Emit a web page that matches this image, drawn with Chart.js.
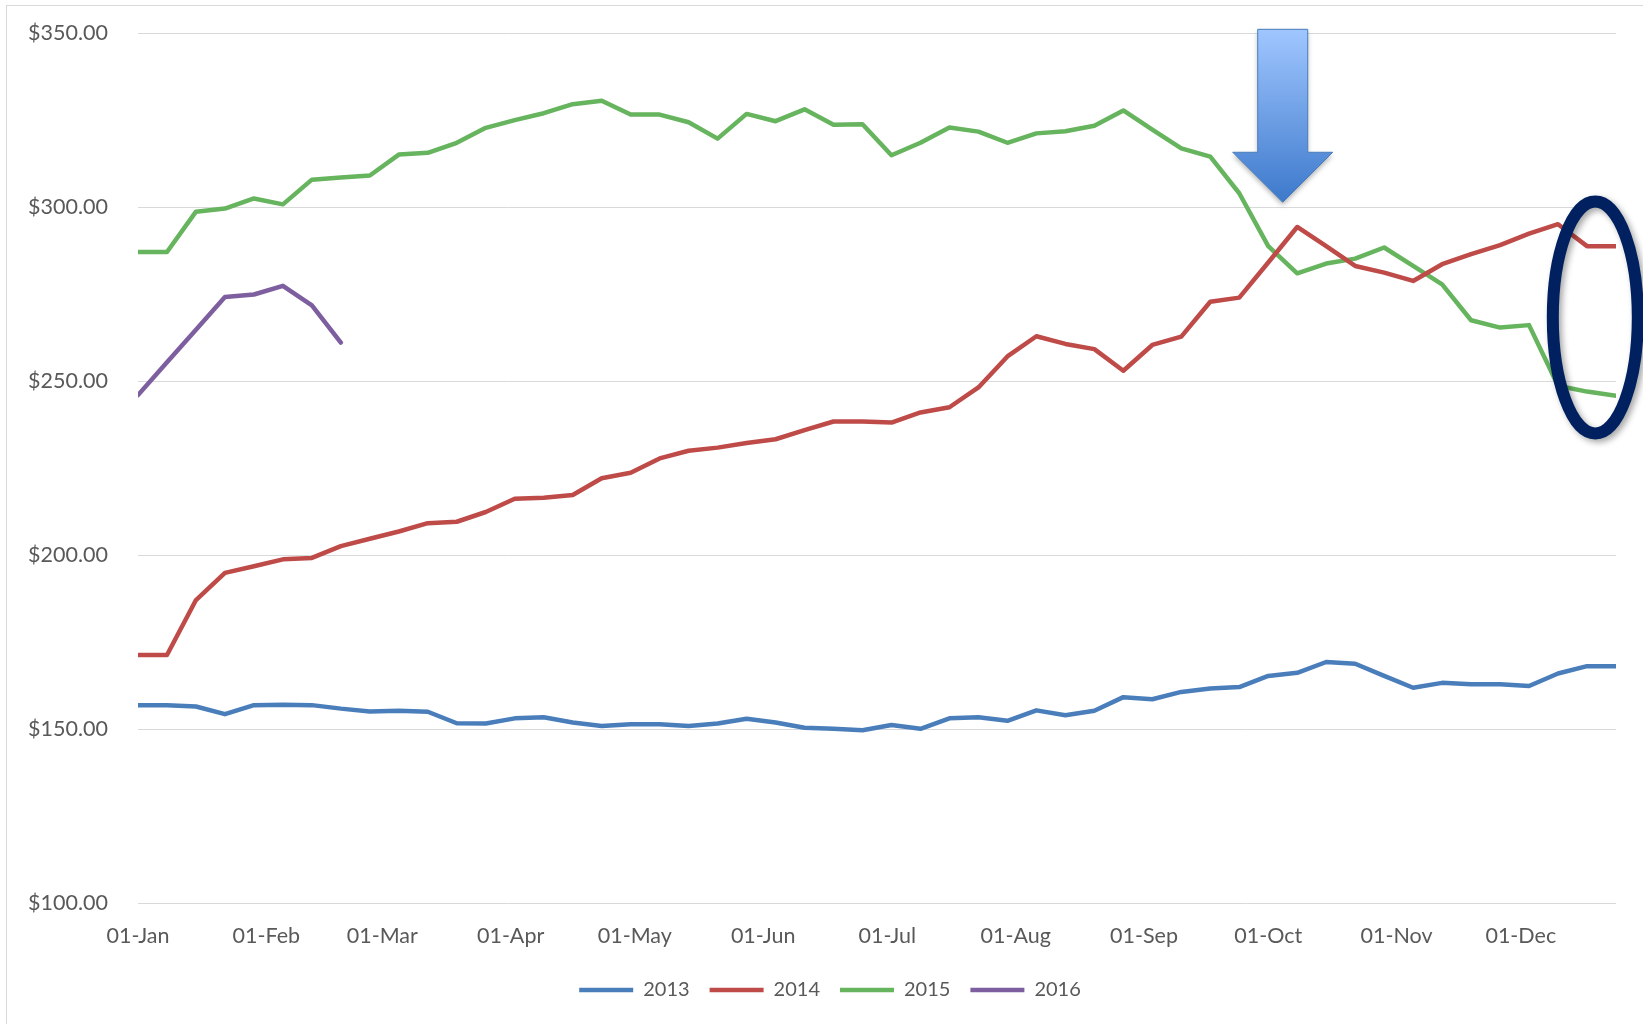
<!DOCTYPE html>
<html>
<head>
<meta charset="utf-8">
<script src="https://cdn.jsdelivr.net/npm/chart.js@4.4.1/dist/chart.umd.min.js"></script>
<style>
  html, body { margin: 0; padding: 0; background: #fff; }
  #wrap { width: 1643px; height: 1024px; }
</style>
</head>
<body>
<div id="wrap"><canvas id="priceChart" width="1643" height="1024"></canvas></div>
<script>
// weekly values, one per week starting 01-Jan
const prices2013 = [157.0, 157.0, 156.6, 154.4, 157.0, 157.1, 157.0, 156.0, 155.2, 155.4,
    155.1, 151.8, 151.7, 153.2, 153.5, 152.0, 151.0, 151.5, 151.5, 151.0,
    151.7, 153.1, 152.0, 150.5, 150.2, 149.8, 151.3, 150.2, 153.2, 153.5,
    152.5, 155.5, 154.1, 155.4, 159.3, 158.7, 160.8, 161.8, 162.2, 165.4,
    166.3, 169.4, 168.9, 165.4, 162.0, 163.4, 163.0, 163.0, 162.5, 166.1,
    168.2, 168.2];
const prices2014 = [171.4, 171.4, 187.2, 195.0, 196.9, 198.9, 199.3, 202.7, 204.8, 206.9,
    209.3, 209.7, 212.5, 216.3, 216.6, 217.4, 222.2, 223.8, 227.9, 230.1,
    231.0, 232.3, 233.4, 236.0, 238.5, 238.5, 238.2, 241.1, 242.6, 248.3,
    257.2, 263.0, 260.8, 259.3, 253.1, 260.5, 262.9, 272.9, 274.1, 284.2,
    294.4, 288.9, 283.2, 281.3, 278.9, 283.7, 286.6, 289.2, 292.5, 295.2,
    288.9, 288.9];
const prices2015 = [287.2, 287.2, 298.8, 299.7, 302.6, 300.9, 308.0, 308.6, 309.2, 315.2,
    315.7, 318.6, 322.9, 325.1, 327.1, 329.7, 330.7, 326.7, 326.7, 324.5,
    319.8, 326.9, 324.8, 328.2, 323.8, 323.9, 315.0, 318.6, 323.0, 321.8,
    318.6, 321.3, 321.9, 323.5, 327.9, 322.4, 317.0, 314.6, 304.1, 288.9,
    281.1, 283.9, 285.3, 288.5, 283.2, 277.9, 267.6, 265.5, 266.2, 248.8,
    247.1, 245.9];
const prices2016 = [246.1, 255.5, 264.9, 274.3, 275.0, 277.5, 271.9, 261.2];

const seriesNames = ['2013', '2014', '2015', '2016'];
const seriesColors = ['#4a7ebb', '#be4b48', '#67b45e', '#7d5fa0'];

// x axis: day of year, labels at month starts
const monthStartDays = [0, 31, 59, 90, 120, 151, 181, 212, 243, 273, 304, 334];
const monthLabels = ['01-Jan', '01-Feb', '01-Mar', '01-Apr', '01-May', '01-Jun',
    '01-Jul', '01-Aug', '01-Sep', '01-Oct', '01-Nov', '01-Dec'];

// callouts drawn over the chart (in data units)
const arrowSpot = { day: 276.5, top: 351.2, tip: 301.5 };
const ringSpot = { day: 352, value: 268.4 };

function toWeekly(values) {
    return values.map((v, i) => ({ x: i * 7, y: v }));
}

const allSeries = [prices2013, prices2014, prices2015, prices2016];

const frame = {
    id: 'frame',
    beforeDraw(chart) {
        const ctx = chart.ctx;
        ctx.save();
        ctx.fillStyle = '#ffffff';
        ctx.fillRect(0, 0, chart.width, chart.height);
        ctx.strokeStyle = '#d9d9d9';
        ctx.lineWidth = 1;
        ctx.strokeRect(6.5, 5.5, 3000, 3000);
        ctx.restore();
    }
};

// legend sits a bit right of the canvas centre in the original
const legendShift = {
    id: 'legendShift',
    afterLayout(chart) {
        chart.legend.left += 22;
        chart.legend.right += 22;
    }
};

const callouts = {
    id: 'callouts',
    afterDraw(chart) {
        const ctx = chart.ctx;
        const x = chart.scales.x, y = chart.scales.y;

        // arrow
        const ax = x.getPixelForValue(arrowSpot.day);
        const top = y.getPixelForValue(arrowSpot.top);
        const tip = y.getPixelForValue(arrowSpot.tip);
        const neck = tip - 50;
        ctx.save();
        const grad = ctx.createLinearGradient(0, top, 0, tip);
        grad.addColorStop(0, '#a0c6ff');
        grad.addColorStop(1, '#3d79cb');
        ctx.beginPath();
        ctx.moveTo(ax - 25, top);
        ctx.lineTo(ax + 25, top);
        ctx.lineTo(ax + 25, neck);
        ctx.lineTo(ax + 50, neck);
        ctx.lineTo(ax, tip);
        ctx.lineTo(ax - 50, neck);
        ctx.lineTo(ax - 25, neck);
        ctx.closePath();
        ctx.shadowColor = 'rgba(0,0,0,0.3)';
        ctx.shadowBlur = 5;
        ctx.shadowOffsetY = 3;
        ctx.fillStyle = grad;
        ctx.fill();
        ctx.shadowColor = 'transparent';
        ctx.strokeStyle = '#4a7ebb';
        ctx.lineWidth = 1;
        ctx.stroke();
        ctx.restore();

        // ring
        const cx = x.getPixelForValue(ringSpot.day);
        const cy = y.getPixelForValue(ringSpot.value);
        ctx.save();
        ctx.beginPath();
        ctx.ellipse(cx, cy, 42.5, 116, 0, 0, Math.PI * 2);
        ctx.shadowColor = 'rgba(0,0,0,0.35)';
        ctx.shadowBlur = 6;
        ctx.shadowOffsetX = 3;
        ctx.shadowOffsetY = 3;
        ctx.strokeStyle = '#002060';
        ctx.lineWidth = 12;
        ctx.stroke();
        ctx.restore();
    }
};

Chart.defaults.font.family = 'Lato, "Open Sans", sans-serif';
Chart.defaults.font.size = 20;
Chart.defaults.color = '#595959';

const ctx = document.getElementById('priceChart').getContext('2d');
new Chart(ctx, {
    type: 'line',
    data: {
        datasets: allSeries.map((vals, i) => ({
            label: seriesNames[i],
            data: toWeekly(vals),
            borderColor: seriesColors[i],
            backgroundColor: seriesColors[i],
            borderWidth: 4.5,
            borderCapStyle: 'round',
            borderJoinStyle: 'round',
            pointRadius: 0,
            pointStyle: 'line',
            tension: 0,
            fill: false
        }))
    },
    options: {
        responsive: false,
        animation: false,
        devicePixelRatio: 1,
        layout: { padding: { left: 0, right: 27, top: 33.5, bottom: 14 } },
        plugins: {
            tooltip: { enabled: false },
            legend: {
                position: 'bottom',
                labels: {
                    usePointStyle: true,
                    pointStyleWidth: 54,
                    boxWidth: 54,
                    padding: 20,
                    color: '#595959',
                    font: { size: 20 }
                }
            }
        },
        scales: {
            x: {
                type: 'linear',
                min: 0,
                max: 357,
                grid: { display: false },
                border: { display: false },
                afterBuildTicks: (scale) => {
                    scale.ticks = monthStartDays.map(d => ({ value: d }));
                },
                afterFit: (scale) => { scale.height = 56.5; },
                ticks: {
                    autoSkip: false,
                    maxRotation: 0,
                    padding: 12,
                    font: { size: 21.5 },
                    callback: (value) => monthLabels[monthStartDays.indexOf(value)]
                }
            },
            y: {
                min: 100,
                max: 350,
                grid: { color: '#d9d9d9', lineWidth: 1, drawTicks: false },
                border: { display: false },
                afterFit: (scale) => {
                    scale.width = 138;
                    scale.paddingTop = 0;
                    scale.paddingBottom = 0;
                },
                ticks: {
                    stepSize: 50,
                    padding: 30,
                    font: { size: 21.5 },
                    callback: (value) => '$' + value.toFixed(2)
                }
            }
        }
    },
    plugins: [frame, legendShift, callouts]
});
</script>
</body>
</html>
